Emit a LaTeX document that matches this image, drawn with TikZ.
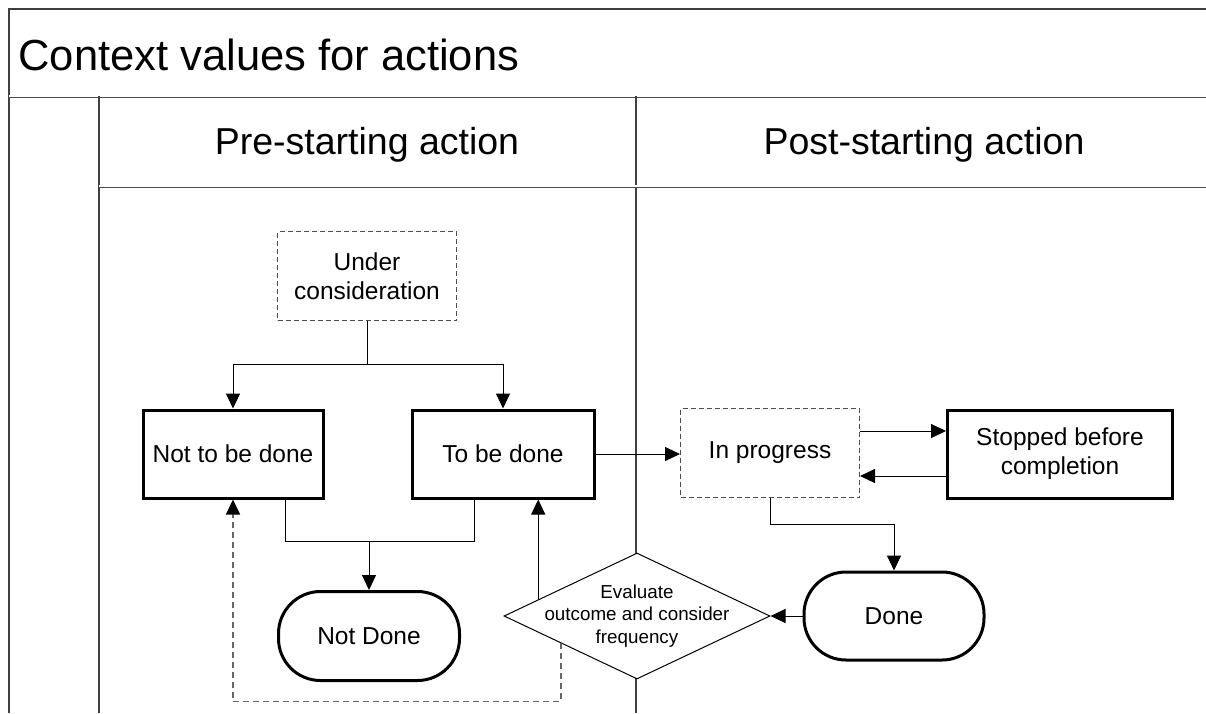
\documentclass[tikz,border=0pt]{standalone}
\usepackage{fontspec}
\setmainfont{Liberation Sans}
\usetikzlibrary{shapes.geometric, arrows.meta, positioning, calc}

\begin{document}
\begin{tikzpicture}[x=1pt, y=-1pt,
    lane/.style={line width=1.4pt, draw=black!75},
    laneedge/.style={double=white, double distance=1.2pt, line width=0.9pt, draw=black!70},
    lanehead/.style={anchor=base, font=\fontsize{37.5}{44}\selectfont},
    boxtext/.style={font=\fontsize{24.5}{29}\selectfont, align=center, inner sep=0pt},
    statebox/.style={boxtext, draw, line width=3pt, rectangle, minimum height=88pt},
    pendbox/.style={boxtext, draw=black!70, line width=1pt, dash pattern=on 5pt off 3pt, rectangle, minimum width=179pt, minimum height=89pt},
    endstate/.style={boxtext, draw, line width=3pt, rounded corners=42pt, minimum width=181pt, minimum height=89pt},
    evalbox/.style={diamond, draw, line width=1pt, fill=white, minimum width=266pt, minimum height=126pt, inner sep=0pt},
    flow/.style={-{Triangle[length=15pt, width=14pt, black]}, line width=1pt},
    loopback/.style={flow, draw=black!60, line width=1.3pt, dash pattern=on 6pt off 4pt}
]
    % =========================================================
    % SWIMLANE FRAME
    % =========================================================
    \fill[white] (0,0) rectangle (1206,713);
    \useasboundingbox (0,0) rectangle (1206,713);
    \draw[lane] (9,713) -- (9,9) -- (1206,9);
    \draw[laneedge] (9,96) -- (1206,96);
    \draw[lane] (99,96) -- (99,713);
    \draw[lane] (636,96) -- (636,713);
    \draw[laneedge] (99,186) -- (1206,186);

    \node[anchor=base west, font=\fontsize{43.5}{50}\selectfont] (title) at (15,70) {Context values for actions};
    \node[lanehead] (prelane) at (367,154) {Pre-starting action};
    \node[lanehead] (postlane) at (924,154) {Post-starting action};

    % =========================================================
    % STATES
    % =========================================================
    \node[pendbox] (under) at (367,276) {Under\\consideration};
    \node[statebox, minimum width=180pt] (nottobe) at (233,454) {Not to be done};
    \node[statebox, minimum width=182pt] (tobe) at (503,454) {To be done};
    \node[endstate] (notdone) at (369,636) {Not Done};
    \node[evalbox, label={[font=\fontsize{18.8}{22.5}\selectfont, align=center]center:Evaluate\\outcome and consider\\frequency}] (eval) at (637,616) {};
    \node[pendbox] (inprog) at (770,453) {In progress};
    \node[statebox, minimum width=225pt] (stopped) at (1060,454) {Stopped before\\completion};
    \node[endstate, minimum width=180pt, minimum height=88pt] (done) at (894,616) {Done};

    % =========================================================
    % CONNECTORS
    % =========================================================
    \coordinate (split) at (367,364);
    \draw[line width=1pt] (under) -- (split);
    \draw[flow] (split) -| (nottobe);
    \draw[flow] (split) -| (tobe);

    \coordinate (merge) at (369,541);
    \draw[line width=1pt] ($(nottobe.south)+(52,0)$) |- (merge) -| ($(tobe.south)+(-29,0)$);
    \draw[flow] (merge) -- (notdone);

    \coordinate (evup) at ($(eval.west)!0.26!(eval.north)$);
    \draw[flow] (evup) -- (evup |- tobe.south);
    \coordinate (evdn) at ($(eval.west)!0.43!(eval.south)$);
    \draw[loopback] (evdn) |- ($(nottobe.south)+(0,202)$) -- (nottobe.south);

    \draw[flow] (tobe.east) -- (tobe.east -| inprog.west);
    \coordinate (stopout) at ($(inprog.east)+(0,-22)$);
    \coordinate (stopback) at ($(stopped.west)+(0,22)$);
    \draw[flow] (stopout) -- (stopout -| stopped.west);
    \draw[flow] (stopback) -- (stopback -| inprog.east);
    \draw[flow] (inprog.south) -- ++(0,26) -| (done.north);
    \draw[flow] (done.west) -- (eval.east);
\end{tikzpicture}
\end{document}
